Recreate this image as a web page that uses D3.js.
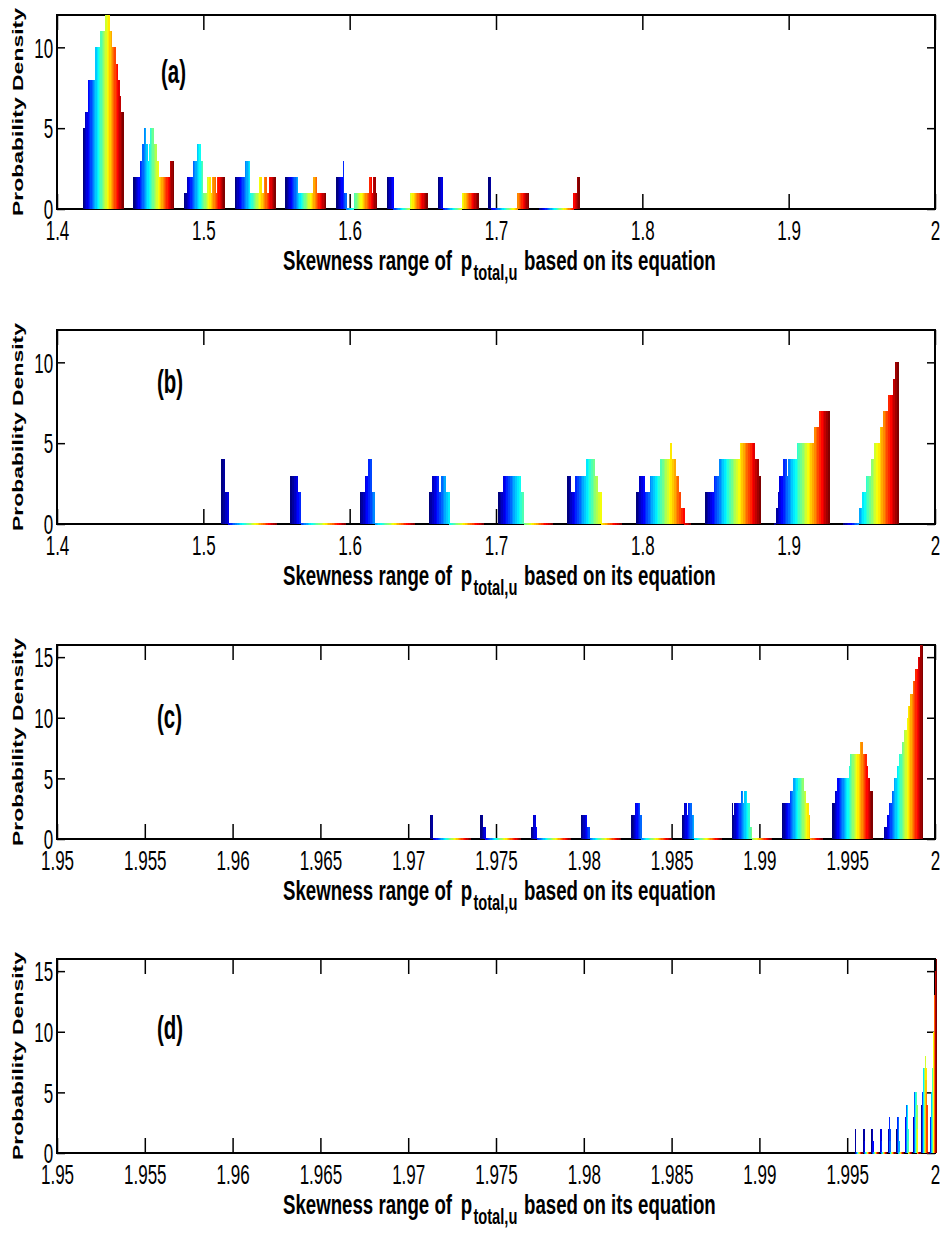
<!DOCTYPE html>
<html>
<head>
<meta charset="utf-8">
<script src="https://cdn.jsdelivr.net/npm/d3@7"></script>
<style>
  body { margin: 0; background: #fff; }
  svg { display: block; }
</style>
</head>
<body>
<div id="chart"></div>
<script>
// bin centres of the 10 histogram bins in each panel
const centersA = [1.4314, 1.4661, 1.5007, 1.5354, 1.5700, 1.6047, 1.6393, 1.6740, 1.7086, 1.7433];
const centersB = [1.5312, 1.5784, 1.6256, 1.6729, 1.7201, 1.7673, 1.8145, 1.8617, 1.9090, 1.9562];
const centersC = [1.97239, 1.97525, 1.97812, 1.98098, 1.98385, 1.98671, 1.98957, 1.99244, 1.99530, 1.99817];
const centersD = [1.99563, 1.99610, 1.99657, 1.99704, 1.99751, 1.99799, 1.99846, 1.99893, 1.99940, 1.99987];

// counts per bin (rows) for each of the 32 series (columns)
const countsA = [
  [5,5,6,6,8,8,8,8,8,8,10,10,10,10,11,11,11,11,12,12,12,11,11,10,10,10,9,9,8,7,6,6],
  [2,2,2,2,2,3,3,4,5,5,4,3,4,5,5,5,4,4,3,3,2,2,2,2,2,2,2,2,2,3,3,3],
  [1,1,2,2,2,2,2,3,3,3,4,4,4,3,3,1,1,1,2,2,2,1,2,2,2,1,2,2,2,2,2,2],
  [2,2,2,2,2,2,2,2,3,3,3,3,1,1,1,1,1,1,1,2,2,1,1,2,2,1,1,2,2,2,2,2],
  [2,2,2,2,2,2,2,2,2,2,1,1,1,1,1,1,1,1,1,1,1,1,2,2,2,1,1,1,1,1,1,1],
  [2,2,2,2,2,3,1,1,0,0,0,0,0,0,1,1,1,1,1,1,1,1,1,1,1,1,2,2,1,2,2,1],
  [2,2,2,2,2,0,0,0,0,0,0,0,0,0,0,0,0,0,1,1,1,1,1,1,1,1,1,1,1,1,1,1],
  [2,2,2,2,0,0,0,0,0,0,0,0,0,0,0,0,0,0,0,1,1,1,1,1,1,1,1,1,1,1,1,1],
  [2,2,0,0,0,0,0,0,0,0,0,0,0,0,0,0,0,0,0,0,0,0,0,1,1,1,1,1,1,1,1,1],
  [0,0,0,0,0,0,0,0,0,0,0,0,0,0,0,0,0,0,0,0,0,0,0,0,0,0,0,1,1,1,2,2]
];
const countsB = [
  [4,4,2,2,0,0,0,0,0,0,0,0,0,0,0,0,0,0,0,0,0,0,0,0,0,0,0,0,0,0,0,0],
  [3,3,3,3,2,2,0,0,0,0,0,0,0,0,0,0,0,0,0,0,0,0,0,0,0,0,0,0,0,0,0,0],
  [2,2,2,3,3,4,4,2,2,0,0,0,0,0,0,0,0,0,0,0,0,0,0,0,0,0,0,0,0,0,0,0],
  [2,2,3,3,3,3,2,3,3,3,2,2,0,0,0,0,0,0,0,0,0,0,0,0,0,0,0,0,0,0,0,0],
  [2,2,2,3,3,3,3,3,3,3,3,3,3,2,2,0,0,0,0,0,0,0,0,0,0,0,0,0,0,0,0,0],
  [3,3,2,2,2,3,3,3,3,3,3,4,4,4,4,4,3,3,2,2,0,0,0,0,0,0,0,0,0,0,0,0],
  [2,2,3,3,3,2,2,2,3,3,3,3,3,3,4,4,4,4,4,4,5,4,4,3,3,2,1,1,0,0,0,0],
  [2,2,2,2,2,3,3,3,4,4,4,4,4,4,4,4,4,4,4,4,5,5,5,5,5,5,5,5,5,4,4,3],
  [0,1,2,3,3,4,4,3,4,4,4,4,4,5,5,5,5,5,5,5,5,5,5,6,6,6,7,7,7,7,7,7],
  [0,0,0,0,0,0,0,0,0,1,1,2,2,3,3,3,4,4,5,5,5,6,6,7,7,7,8,8,8,9,10,10]
];
const countsC = [
  [2,2,0,0,0,0,0,0,0,0,0,0,0,0,0,0,0,0,0,0,0,0,0,0,0,0,0,0,0,0,0,0],
  [2,2,1,1,0,0,0,0,0,0,0,0,0,0,0,0,0,0,0,0,0,0,0,0,0,0,0,0,0,0,0,0],
  [1,1,2,2,1,0,0,0,0,0,0,0,0,0,0,0,0,0,0,0,0,0,0,0,0,0,0,0,0,0,0,0],
  [2,2,2,2,2,1,1,0,0,0,0,0,0,0,0,0,0,0,0,0,0,0,0,0,0,0,0,0,0,0,0,0],
  [2,2,2,3,3,3,3,2,0,0,0,0,0,0,0,0,0,0,0,0,0,0,0,0,0,0,0,0,0,0,0,0],
  [2,2,3,3,2,3,3,3,2,2,0,0,0,0,0,0,0,0,0,0,0,0,0,0,0,0,0,0,0,0,0,0],
  [3,2,3,3,3,3,3,4,4,3,4,4,3,3,1,1,0,0,0,0,0,0,0,0,0,0,0,0,0,0,0,0],
  [3,3,3,3,3,3,4,4,4,5,5,5,4,5,5,5,5,4,4,3,3,2,0,0,0,0,0,0,0,0,0,0],
  [3,3,4,4,5,5,5,5,5,5,5,5,5,6,7,7,7,7,7,7,7,7,8,8,7,7,7,6,5,5,4,4],
  [0,1,1,2,2,3,3,4,4,5,5,6,6,7,7,8,8,9,9,10,11,11,12,12,13,13,14,14,15,15,16,16]
];
const countsD = [
  [2,2,0,0,0,0,0,0,0,0,0,0,0,0,0,0,0,0,0,0,0,0,0,0,0,0,0,0,0,0,0,0],
  [2,2,1,1,0,0,0,0,0,0,0,0,0,0,0,0,0,0,0,0,0,0,0,0,0,0,0,0,0,0,0,0],
  [2,2,2,1,1,0,0,0,0,0,0,0,0,0,0,0,0,0,0,0,0,0,0,0,0,0,0,0,0,0,0,0],
  [2,2,2,2,1,1,0,0,0,0,0,0,0,0,0,0,0,0,0,0,0,0,0,0,0,0,0,0,0,0,0,0],
  [2,2,2,3,3,3,2,1,0,0,0,0,0,0,0,0,0,0,0,0,0,0,0,0,0,0,0,0,0,0,0,0],
  [2,3,3,3,2,3,3,3,2,1,0,0,0,0,0,0,0,0,0,0,0,0,0,0,0,0,0,0,0,0,0,0],
  [2,3,3,3,3,3,4,4,3,3,4,4,3,2,1,0,0,0,0,0,0,0,0,0,0,0,0,0,0,0,0,0],
  [3,3,3,3,4,4,4,5,5,5,5,4,5,5,5,4,4,3,2,2,0,0,0,0,0,0,0,0,0,0,0,0],
  [3,4,4,5,5,5,5,5,6,6,6,7,7,7,7,7,7,8,8,7,7,6,5,5,4,4,0,0,0,0,0,0],
  [0,1,1,2,2,3,3,4,4,5,5,6,6,7,7,8,8,9,9,10,11,11,12,12,13,13,14,14,15,15,16,16]
];

// tick labels
const xTicksAB = [1.4, 1.5, 1.6, 1.7, 1.8, 1.9, 2];
const xTicksCD = [1.95, 1.955, 1.96, 1.965, 1.97, 1.975, 1.98, 1.985, 1.99, 1.995, 2];
const yTicksAB = [0, 5, 10];
const yTicksCD = [0, 5, 10, 15];

const panels = [
  { letter: "(a)", centers: centersA, counts: countsA, xDomain: [1.4, 2], xTicks: xTicksAB, yMax: 12, yTicks: yTicksAB, top: 15, letterX: 161, letterY: 83 },
  { letter: "(b)", centers: centersB, counts: countsB, xDomain: [1.4, 2], xTicks: xTicksAB, yMax: 12, yTicks: yTicksAB, top: 330, letterX: 157, letterY: 393 },
  { letter: "(c)", centers: centersC, counts: countsC, xDomain: [1.95, 2], xTicks: xTicksCD, yMax: 16, yTicks: yTicksCD, top: 645, letterX: 157, letterY: 728 },
  { letter: "(d)", centers: centersD, counts: countsD, xDomain: [1.95, 2], xTicks: xTicksCD, yMax: 16, yTicks: yTicksCD, top: 959, letterX: 157, letterY: 1039 }
];

const W = 945, H = 1242;
const left = 57, right = 935, ph = 194;
const font = "'Liberation Sans', Arial, Helvetica, sans-serif";
const sx = 0.63; // the figure is stretched vertically, so text is narrow

const svg = d3.select("#chart").append("svg")
  .attr("width", W)
  .attr("height", H);

// jet colour map, one colour per series
const K = countsA[0].length;
const jet = t => {
  const c = v => Math.max(0, Math.min(1, v));
  return d3.rgb(255 * c(1.5 - Math.abs(4 * t - 3)), 255 * c(1.5 - Math.abs(4 * t - 2)), 255 * c(1.5 - Math.abs(4 * t - 1))).formatHex();
};
const color = d3.scaleOrdinal()
  .domain(d3.range(K))
  .range(d3.range(K).map(i => jet(i / (K - 1))));

panels.forEach(p => {
  const g = svg.append("g");
  const bottom = p.top + ph;

  const x = d3.scaleLinear().domain(p.xDomain).range([left, right]);
  const y = d3.scaleLinear().domain([0, p.yMax]).range([bottom, p.top]);

  // axes, ticks pointing inwards like matlab
  const xb = g.append("g")
    .attr("transform", `translate(0,${bottom})`)
    .call(d3.axisBottom(x).tickValues(p.xTicks).tickFormat(d3.format("")).tickSizeInner(-15).tickSizeOuter(0));
  xb.selectAll("text")
    .attr("y", 31).attr("dy", null)
    .attr("transform", `scale(${sx},1)`)
    .style("font", `27px ${font}`).attr("fill", "#000");

  g.append("g")
    .attr("transform", `translate(0,${p.top})`)
    .call(d3.axisTop(x).tickValues(p.xTicks).tickFormat("").tickSizeInner(-15).tickSizeOuter(0));

  const yl = g.append("g")
    .attr("transform", `translate(${left},0)`)
    .call(d3.axisLeft(y).tickValues(p.yTicks).tickSizeInner(-8).tickSizeOuter(0));
  yl.selectAll("text")
    .attr("x", -6).attr("dy", "0.36em")
    .attr("transform", `scale(${sx},1)`)
    .style("font", `27px ${font}`).attr("fill", "#000");

  g.append("g")
    .attr("transform", `translate(${right},0)`)
    .call(d3.axisRight(y).tickValues(p.yTicks).tickFormat("").tickSizeInner(-8).tickSizeOuter(0));

  g.selectAll(".domain").remove();
  g.selectAll(".tick line").attr("stroke", "#000").attr("stroke-width", 1.5);

  g.append("rect")
    .attr("x", left).attr("y", p.top)
    .attr("width", right - left).attr("height", ph)
    .attr("fill", "none").attr("stroke", "#000").attr("stroke-width", 2);

  // grouped bars
  const groupW = 0.8 * (x(p.centers[1]) - x(p.centers[0]));
  const sub = d3.scaleBand().domain(d3.range(K)).range([-groupW / 2, groupW / 2]);
  const bw = Math.max(sub.bandwidth(), 1) + 0.3;

  g.append("g").attr("shape-rendering", "crispEdges")
    .selectAll("g")
    .data(p.counts)
    .join("g")
      .attr("transform", (d, j) => `translate(${x(p.centers[j])},0)`)
    .selectAll("rect")
    .data(d => d)
    .join("rect")
      .attr("x", (v, i) => sub(i))
      .attr("width", bw)
      .attr("y", v => v > 0 ? y(v) : y(0) - 1)
      .attr("height", v => v > 0 ? y(0) - y(v) : 2)
      .attr("fill", (v, i) => color(i));

  // panel letter
  svg.append("text")
    .attr("transform", `translate(${p.letterX},${p.letterY}) scale(0.62,1)`)
    .style("font", `bold 33px ${font}`)
    .text(p.letter);

  // y label
  svg.append("text")
    .attr("transform", `translate(23,${p.top + ph / 2}) rotate(-90)`)
    .attr("text-anchor", "middle")
    .attr("textLength", 208).attr("lengthAdjust", "spacingAndGlyphs")
    .style("font", `bold 15px ${font}`)
    .text("Probability Density");

  // x label with subscript, squeezed to the width seen in the figure
  const by = bottom + 61;
  const lab = svg.append("text")
    .style("font", `bold 28px ${font}`);
  lab.append("tspan").text("Skewness range of");
  lab.append("tspan").attr("dx", 13).text("p");
  lab.append("tspan").attr("dx", 2).attr("dy", 10).style("font-size", "22px").text("total,u");
  lab.append("tspan").attr("dx", 10).attr("dy", -10).text("based on its equation");
  const w = lab.node().getBBox().width;
  lab.attr("transform", `translate(283,${by}) scale(${433 / w},1)`);
});
</script>
</body>
</html>
